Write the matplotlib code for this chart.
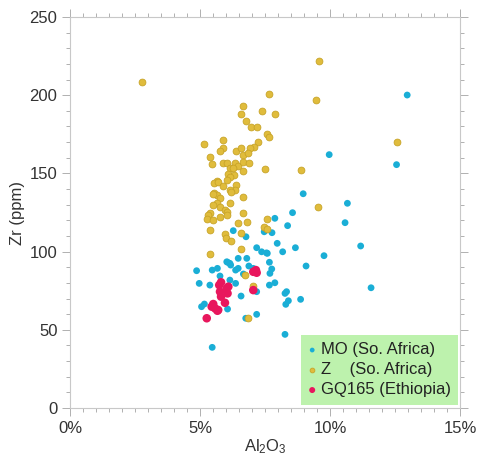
import matplotlib.pyplot as plt
from matplotlib.ticker import MultipleLocator, FuncFormatter

plt.rcParams['font.family'] = ['Liberation Sans', 'DejaVu Sans']
plt.rcParams['mathtext.default'] = 'regular'

# Al2O3 (%) and Zr (ppm)
mo_al = [12.97, 9.97, 12.56, 8.97, 10.67, 10.58, 7.88, 8.56, 8.37, 6.28, 7.47, 7.77,
         6.77, 7.97, 7.18, 8.67, 8.18, 7.37, 7.59, 11.18, 9.77, 6.47, 6.80, 6.06,
         6.18, 7.67, 9.08, 6.88, 7.05, 7.76, 6.37, 6.47, 4.87, 5.47, 5.67, 5.77,
         6.15, 6.37, 6.67, 4.97, 5.38, 7.67, 7.88, 7.18, 8.27, 6.58, 8.40, 8.30,
         8.87, 5.17, 5.06, 6.06, 7.18, 6.76, 11.58, 8.27, 5.47, 7.56, 6.15, 6.03,
         7.69, 8.33]
mo_zr = [200.1, 162.0, 155.6, 137.0, 130.9, 118.5, 121.3, 124.9, 116.6, 113.4, 112.7, 112.1,
         109.5, 105.3, 102.5, 102.5, 99.9, 99.9, 98.9, 103.6, 97.4, 95.7, 95.7, 93.2,
         91.4, 93.2, 90.8, 90.8, 89.3, 88.9, 88.2, 89.3, 87.8, 88.2, 89.3, 84.4,
         81.8, 79.7, 85.7, 79.7, 78.6, 78.6, 80.1, 74.4, 73.3, 71.6, 68.6, 66.3,
         69.5, 66.5, 64.8, 63.3, 59.9, 57.4, 76.9, 47.1, 38.8, 99.2, 92.5, 93.5,
         86.1, 74.4]

z_al = [2.76, 9.56, 7.67, 9.46, 6.65, 6.56, 7.37, 7.88, 6.77, 6.96, 7.18, 7.56,
        7.67, 7.24, 7.09, 6.92, 5.87, 5.17, 5.87, 5.78, 6.37, 6.56, 6.67, 6.86,
        5.37, 5.47, 5.90, 6.03, 6.35, 6.47, 6.67, 6.90, 6.15, 6.28, 6.64, 7.49,
        8.87, 12.56, 6.09, 6.31, 6.15, 6.03, 5.64, 5.55, 5.70, 5.90, 6.37, 6.35,
        6.15, 6.18, 5.55, 5.64, 5.51, 5.77, 6.64, 5.64, 5.51, 6.15, 5.77, 5.96,
        6.03, 5.38, 5.32, 6.67, 5.26, 5.51, 5.77, 6.03, 6.47, 6.79, 7.56, 7.47,
        7.56, 9.55, 5.38, 5.96, 5.99, 6.18, 6.58, 6.58, 5.38, 6.73, 7.05, 6.83]
z_zr = [208.4, 221.7, 200.6, 197.1, 193.1, 188.0, 189.9, 188.0, 183.3, 179.7, 179.7, 175.2,
        173.1, 169.9, 167.1, 166.0, 171.4, 168.6, 166.0, 164.5, 164.5, 166.4, 161.8, 162.8,
        160.3, 155.8, 156.6, 156.6, 156.4, 155.0, 157.1, 156.8, 153.2, 153.2, 151.5, 152.6,
        152.2, 170.3, 149.6, 149.0, 147.5, 145.8, 145.3, 143.7, 144.7, 141.9, 142.6, 139.4,
        139.4, 138.3, 137.3, 136.2, 136.8, 134.5, 135.1, 130.9, 129.8, 130.9, 128.7, 126.6,
        125.6, 124.9, 123.4, 124.9, 120.6, 120.2, 122.3, 123.4, 118.1, 119.1, 120.8, 115.9,
        114.3, 128.7, 113.8, 111.3, 108.5, 107.0, 111.7, 101.7, 98.3, 85.0, 78.0, 57.3]

gq_al = [7.15, 7.18, 7.05, 7.05, 5.74, 5.81, 6.03, 6.06, 5.77, 5.81, 5.96, 5.51,
         5.45, 5.58, 5.67, 5.26, 6.09, 5.70]
gq_zr = [88.2, 86.5, 87.1, 75.4, 78.6, 80.4, 76.5, 73.3, 74.4, 71.2, 67.3, 66.5,
         64.8, 63.7, 62.2, 57.4, 77.6, 62.7]

fig = plt.figure(figsize=(4.81, 4.59), dpi=100)
ax = fig.add_axes([0.1455, 0.111, 0.8108, 0.852])

ax.scatter(mo_al, mo_zr, s=24, color='#1aaed6', edgecolors='none', label='MO (So. Africa)', zorder=3)
ax.scatter(z_al, z_zr, s=24, color='#e0bc3c', edgecolors='#c8a428', linewidths=0.6,
           label='Z    (So. Africa)', zorder=3)
ax.scatter(gq_al, gq_zr, s=38, color='#e8175d', edgecolors='none', label='GQ165 (Ethiopia)', zorder=4)

ax.set_xlim(0, 15)
ax.set_ylim(0, 250)
ax.xaxis.set_major_locator(MultipleLocator(5))
ax.xaxis.set_minor_locator(MultipleLocator(0.5))
ax.yaxis.set_major_locator(MultipleLocator(50))
ax.yaxis.set_minor_locator(MultipleLocator(10))
ax.xaxis.set_major_formatter(FuncFormatter(lambda v, p: '{:.0f}%'.format(v)))

for sp in ax.spines.values():
    sp.set_color('#c8c8c8')
    sp.set_linewidth(0.8)
ax.tick_params(which='both', direction='out', color='#b0b0b0', top=True, right=True,
               labelsize=12, labelcolor='#333333', width=0.7)
ax.tick_params(which='major', length=6, pad=3)
ax.tick_params(which='minor', length=3)

ax.set_xlabel(r'Al$_2$O$_3$', fontsize=12, color='#333333', labelpad=1)
ax.set_ylabel('Zr (ppm)', fontsize=12, color='#333333', labelpad=3)

leg = ax.legend(loc='lower right', bbox_to_anchor=(0.995, 0.008), fontsize=12,
                frameon=True, fancybox=False, framealpha=1, facecolor='#bdf2ad',
                edgecolor='none', handlelength=0.4, handletextpad=0.3,
                borderpad=0.45, labelspacing=0.3, markerscale=0.7, borderaxespad=0)
for t in leg.get_texts():
    t.set_color('#222222')

fig.savefig('out.png', dpi=100)
